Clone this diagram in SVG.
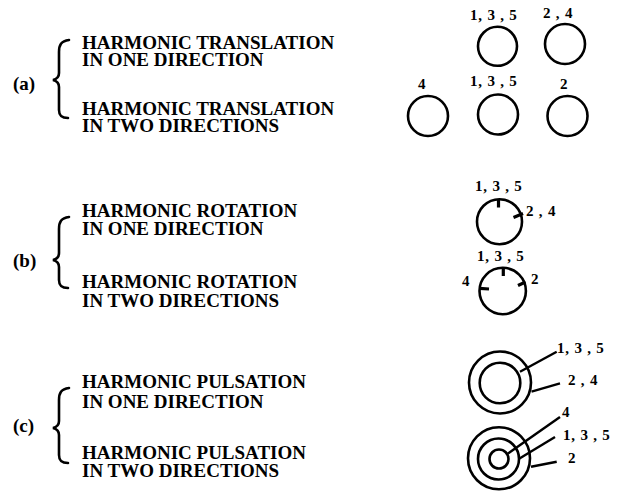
<svg xmlns="http://www.w3.org/2000/svg" width="621" height="492" viewBox="0 0 621 492">
<defs>
<style>
.t{font-family:"Liberation Serif","Times New Roman",serif;font-weight:bold;font-size:19px;fill:#000}
.n{font-family:"Liberation Serif","Times New Roman",serif;font-weight:bold;font-size:15px;letter-spacing:0.8px;fill:#000}
.c{fill:none;stroke:#000;stroke-width:2.6}
.br{fill:none;stroke:#000;stroke-width:2.6;stroke-linecap:round}
.tk{fill:none;stroke:#000;stroke-width:3.2}
.ld{fill:none;stroke:#000;stroke-width:2.4}
</style>
</defs>
<rect width="621" height="492" fill="#fff"/>

<g id="group-a">
<text class="t" x="13" y="90">(a)</text>
<path class="br" d="M69 40 C61 41 59 45 59 52 L59 73 C59 77 57 79 53 80 C57 81 59 83 59 87 L59 110 C59 115 61 118 68 118"/>
<text class="t" x="82" y="49">HARMONIC TRANSLATION<tspan x="82" dy="16.5">IN ONE DIRECTION</tspan></text>
<text class="t" x="82" y="115">HARMONIC TRANSLATION<tspan x="82" dy="17">IN TWO DIRECTIONS</tspan></text>
</g>
<g id="a1-circle1">
<circle class="c" cx="497.5" cy="46.3" r="19.5"/>
<text class="n" x="470" y="20">1, 3 , 5</text>
</g>
<g id="a1-circle2">
<circle class="c" cx="565" cy="44" r="20"/>
<text class="n" x="543" y="17.5">2 , 4</text>
</g>
<g id="a2-circle1">
<circle class="c" cx="428" cy="116" r="20"/>
<text class="n" x="418" y="89">4</text>
</g>
<g id="a2-circle2">
<circle class="c" cx="498" cy="114.5" r="20"/>
<text class="n" x="470" y="86">1, 3 , 5</text>
</g>
<g id="a2-circle3">
<circle class="c" cx="567.5" cy="116" r="20"/>
<text class="n" x="560" y="89">2</text>
</g>

<g id="group-b">
<text class="t" x="13" y="266.5">(b)</text>
<path class="br" d="M69 217 C61 218 59 222 59 229 L59 253 C59 257 57 259 53 260 C57 261 59 263 59 267 L59 280 C59 285 61 288 68 288"/>
<text class="t" x="82" y="217">HARMONIC ROTATION<tspan x="82" dy="18">IN ONE DIRECTION</tspan></text>
<text class="t" x="82" y="288">HARMONIC ROTATION<tspan x="82" dy="18.5">IN TWO DIRECTIONS</tspan></text>
</g>
<g id="b1-rotor">
<circle class="c" cx="499.5" cy="221.7" r="22.5"/>
<path class="tk" d="M498.5 199 L498.5 207.5"/>
<path class="tk" d="M523 213.5 L513.5 217.5"/>
<text class="n" x="475" y="191">1, 3 , 5</text>
<text class="n" x="526" y="216">2 , 4</text>
</g>
<g id="b2-rotor">
<circle class="c" cx="502.7" cy="291" r="23.2"/>
<path class="tk" d="M503.3 268.5 L503.3 276"/>
<path class="tk" d="M479.5 288.3 L489 289"/>
<path class="tk" d="M525.5 282 L518 285.5"/>
<text class="n" x="477" y="261">1, 3 , 5</text>
<text class="n" x="462" y="286">4</text>
<text class="n" x="531" y="284">2</text>
</g>

<g id="group-c">
<text class="t" x="13" y="432">(c)</text>
<path class="br" d="M69 388 C61 389 59 393 59 400 L59 421 C59 425 57 427 53 428 C57 429 59 431 59 435 L59 455 C59 460 61 463 68 463"/>
<text class="t" x="82" y="388">HARMONIC PULSATION<tspan x="82" dy="19.5">IN ONE DIRECTION</tspan></text>
<text class="t" x="82" y="458.5">HARMONIC PULSATION<tspan x="82" dy="18.5">IN TWO DIRECTIONS</tspan></text>
</g>
<g id="c1-pulsator">
<circle class="c" cx="500" cy="382.5" r="31"/>
<circle class="c" cx="500" cy="383" r="20.3"/>
<text class="n" x="557" y="353">1, 3 , 5</text>
<text class="n" x="568" y="385">2 , 4</text>
</g>
<g id="c2-pulsator">
<circle class="c" cx="499" cy="458.3" r="31"/>
<circle class="c" cx="498.5" cy="459" r="20.5"/>
<circle class="c" cx="499" cy="459" r="9.5"/>
<text class="n" x="562" y="417">4</text>
<text class="n" x="563" y="440">1, 3 , 5</text>
<text class="n" x="568" y="463">2</text>
</g>

<g id="connectors">
<path class="ld" d="M520 371.7 L556.7 351.7"/>
<path class="ld" d="M531.5 391.7 L560 383.3"/>
<path class="ld" d="M508 453.5 L560 417"/>
<path class="ld" d="M519.5 458.5 L555 437"/>
<path class="ld" d="M531 466.7 L556.7 461.7"/>
</g>
</svg>
